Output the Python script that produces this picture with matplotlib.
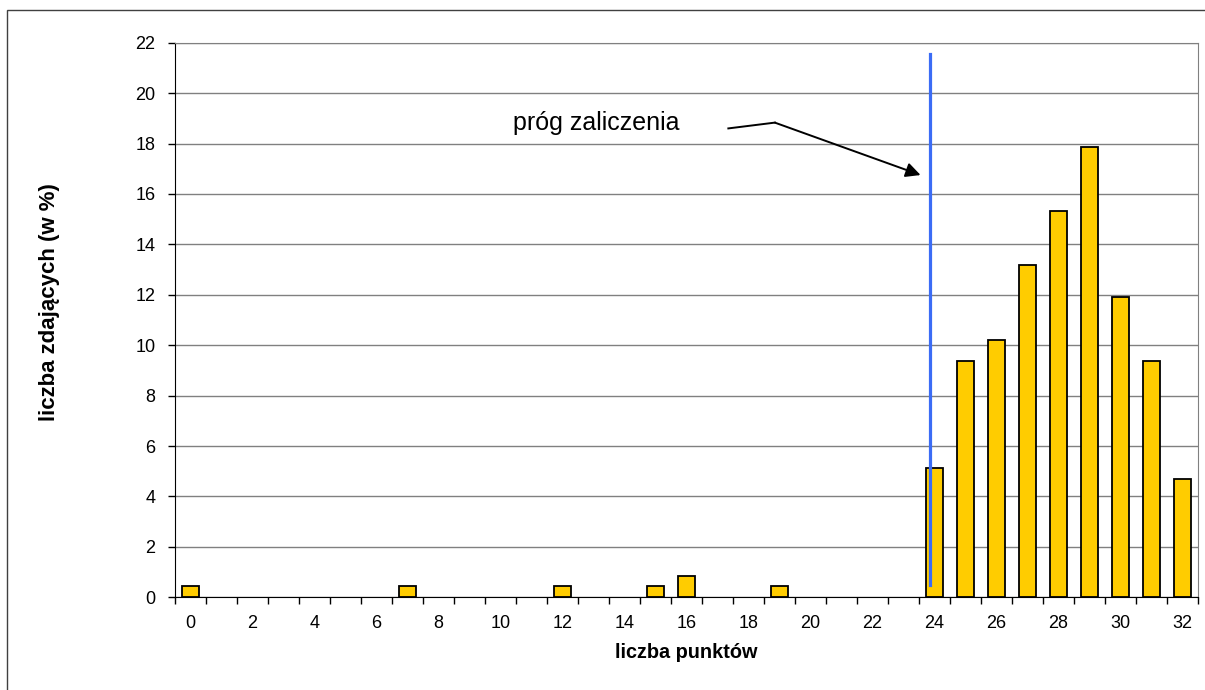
import numpy as np
import matplotlib.pyplot as plt
from matplotlib.patches import Rectangle

plt.rcParams['font.family'] = ['Liberation Sans', 'DejaVu Sans']

# liczba punktów i odsetek zdających (w %)
punkty = list(range(0, 33))
procent = [0.43, 0, 0, 0, 0, 0, 0, 0.43, 0, 0, 0, 0, 0.43, 0, 0, 0.43, 0.85,
           0, 0, 0.43, 0, 0, 0, 0, 5.11, 9.36, 10.21, 13.19, 15.32, 17.87,
           11.91, 9.36, 4.68]
etykiety_x = [str(v) for v in range(0, 33, 2)]
prog = 23.85

fig = plt.figure(figsize=(12.05, 6.9), dpi=100)
fig.patches.append(Rectangle((7/1205, -0.1), 1.2, 1.1 - 10/690, transform=fig.transFigure,
                             fill=False, edgecolor='#404040', linewidth=1))
ax = fig.add_axes([175/1205, 1 - 597.3/690, 1023/1205, 554.6/690])

# słupki zerowe nie są rysowane
px = [p for p, v in zip(punkty, procent) if v > 0]
pv = [v for v in procent if v > 0]
ax.bar(px, pv, width=0.55, color='#FFCC00', edgecolor='black', linewidth=1.3, zorder=3)

ax.set_xlim(-0.5, 32.5)
ax.set_ylim(0, 22)
ax.set_yticks(np.arange(0, 23, 2))
ax.grid(axis='y', color='#808080', linewidth=1, zorder=0)

ax.set_xticks(np.arange(-0.5, 33, 1), labels=[''] * 34)
ax.set_xticks(np.arange(0, 33, 2), labels=etykiety_x, minor=True)
ax.tick_params(axis='x', which='major', length=5, width=1, direction='out')
ax.tick_params(axis='x', which='minor', length=0, pad=13, labelsize=13)
ax.tick_params(axis='y', length=5, width=1, pad=9, labelsize=13)

for s in ['top', 'right']:
    ax.spines[s].set_color('#808080')
for s in ['left', 'bottom']:
    ax.spines[s].set_color('black')

# próg zaliczenia
ax.plot([prog, prog], [0.49, 21.55], color='#3B6CF5', linewidth=2.3, zorder=4)
ax.plot([17.35, 18.85], [18.60, 18.83], color='black', linewidth=1.4, zorder=4)
ax.annotate('', xy=(23.55, 16.75), xytext=(18.85, 18.83),
            arrowprops=dict(arrowstyle='-|>', color='black', lw=1.4,
                            mutation_scale=22, shrinkA=0, shrinkB=0), zorder=4)
ax.text(10.40, 18.81, 'próg zaliczenia', fontsize=18, ha='left', va='center')

ax.set_xlabel('liczba punktów', fontsize=14.3, fontweight='bold')
ax.set_ylabel('liczba zdających (w %)', fontsize=16, fontweight='bold')
ax.xaxis.set_label_coords(0.5, -0.1)
ax.xaxis.label.set_va('center')
ax.yaxis.set_label_coords((50 - 175) / 1023, 0.533)
ax.yaxis.label.set_va('center')

plt.savefig('out.png', dpi=100)
